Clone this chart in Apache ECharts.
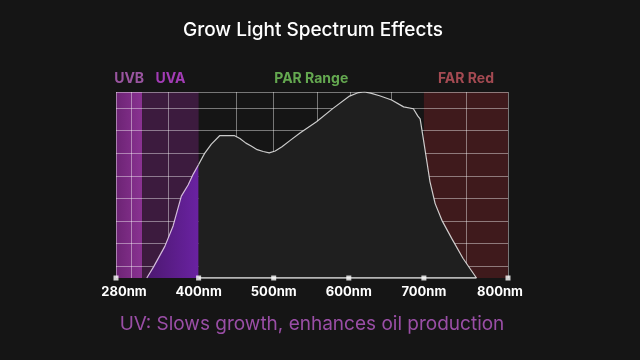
<!DOCTYPE html>
<html><head><meta charset="utf-8">
<script src="https://cdn.jsdelivr.net/npm/echarts@6/dist/echarts.min.js"></script>
<style>html,body{margin:0;padding:0;background:#151515}#c{width:640px;height:360px}</style>
</head><body><div id="c"></div>
<script>
const titleText = 'Grow Light Spectrum Effects';
const noteText = 'UV: Slows growth, enhances oil production';
const axisMin = 290, axisMax = 812;
const tickValues = [290, 400, 500, 600, 700, 812];
const tickLabels = ['280nm', '400nm', '500nm', '600nm', '700nm', '800nm'];
const gridNm = [310, 360, 450, 500, 558, 602, 657, 757];
const gridLevels = [6.1, 18.7, 30.6, 42.8, 54.8, 67, 79.3, 91.4];
const bandNames = ['UVB', 'UVA', 'PAR Range', 'FAR Red'];
const bandStart = [290, 325, 400, 700];
const bandEnd = [325, 400, 700, 812];
const uvLimit = 400;
const spectrumNm = [331, 340, 355, 366, 377, 386, 393, 400, 408, 417, 428, 448, 455, 463, 470, 478, 486, 494, 502, 511, 522, 535, 557, 579, 601, 613, 621, 629, 641, 657, 673, 686, 692, 695, 699, 704, 708, 715, 724, 737, 752, 770];
const spectrumVal = [0, 6, 17, 28, 44, 50, 56, 61, 67, 72, 76.5, 76.5, 75, 72.5, 71, 69, 68, 67.3, 68.3, 70.6, 74, 78, 84, 91.2, 97.8, 99.7, 100, 99.4, 98, 95.7, 92, 91, 87, 85.5, 75.5, 62.5, 52, 40, 31, 21.3, 10.6, 0];

const bandFill = [
  new echarts.graphic.LinearGradient(0, 0, 1, 0, [{offset: 0, color: '#6c2474'}, {offset: 1, color: '#8a3292'}]),
  '#3c1b3e', 'rgba(0,0,0,0)', '#3f1a1c'
];
const bandLabelColor = ['#9a55a0', '#a33cb6', '#64a850', '#a44a52'];

const pts = spectrumNm.map((x, i) => [x, spectrumVal[i]]);
const uvPts = pts.filter(p => p[0] <= uvLimit);
const visPts = pts.filter(p => p[0] >= uvLimit);
const lastNm = spectrumNm[spectrumNm.length - 1];

const font = 'Inter, "Open Sans", sans-serif';
const chart = echarts.init(document.getElementById('c'), null, {renderer: 'canvas'});
chart.setOption({
  backgroundColor: '#151515',
  animation: false,
  textStyle: {fontFamily: font},
  grid: {left: 116, right: 132, top: 92, bottom: 82, containLabel: false},
  xAxis: [{
    type: 'value', min: axisMin, max: axisMax, z: 2,
    axisLine: {show: false}, axisTick: {show: false}, splitLine: {show: false},
    axisLabel: {
      customValues: tickValues, margin: 8, color: '#ffffff', fontSize: 13, fontWeight: 'bold', fontFamily: font,
      formatter: v => {
        const i = tickValues.indexOf(v);
        if (i === 0) return '{l|' + tickLabels[i] + '}';
        if (i === tickValues.length - 1) return '{r|' + tickLabels[i] + '}';
        return tickLabels[i];
      },
      rich: {
        l: {padding: [0, 0, 0, 16], color: '#ffffff', fontSize: 13, fontWeight: 'bold', fontFamily: font},
        r: {padding: [0, 16, 0, 0], color: '#ffffff', fontSize: 13, fontWeight: 'bold', fontFamily: font}
      }
    }
  }, {
    type: 'value', min: axisMin, max: axisMax, position: 'top', z: 2,
    axisLine: {show: false}, axisLabel: {show: false},
    axisTick: {show: false, customValues: [axisMin].concat(gridNm, [axisMax])},
    splitLine: {show: true, lineStyle: {color: 'rgba(255,255,255,0.42)', width: 1}}
  }],
  yAxis: [{
    type: 'value', min: 0, max: 100, z: 2,
    axisLine: {show: false}, axisLabel: {show: false},
    axisTick: {show: false, customValues: gridLevels.concat([100])},
    splitLine: {show: true, lineStyle: {color: 'rgba(255,255,255,0.42)', width: 1}}
  }],
  series: [{
    name: 'UV', type: 'line', z: 3, data: uvPts, symbol: 'none', smooth: false,
    lineStyle: {color: 'rgba(235,215,240,0.85)', width: 1.2},
    areaStyle: {opacity: 1, color: new echarts.graphic.LinearGradient(0, 0, 1, 0, [{offset: 0, color: '#4c1870'}, {offset: 1, color: '#6a22a2'}])}
  }, {
    name: 'Visible', type: 'line', z: 3, data: visPts, symbol: 'none', smooth: false,
    lineStyle: {color: 'rgba(235,235,235,0.85)', width: 1.2},
    areaStyle: {opacity: 1, color: '#1f1f1f'},
    markArea: {
      silent: true,
      data: bandNames.map((n, i) => [{
        name: n, xAxis: bandStart[i],
        itemStyle: {color: bandFill[i]},
        label: {show: true, position: 'top', distance: 6, color: bandLabelColor[i], fontSize: 14, fontWeight: 'bold', fontFamily: font}
      }, {xAxis: bandEnd[i]}])
    }
  }, {
    name: 'baseline', type: 'line', z: 4, symbol: 'none', silent: true,
    data: [[uvLimit, 0], [lastNm, 0]],
    lineStyle: {color: '#e8e8e8', width: 1.5}
  }, {
    name: 'ticks', type: 'scatter', z: 5, clip: false, silent: true,
    symbol: 'rect', symbolSize: 5,
    data: tickValues.map(v => [v, 0]),
    itemStyle: {color: '#ffffff'}
  }],
  graphic: [{
    type: 'text', x: 313, y: 30,
    style: {text: titleText, fill: '#ffffff', font: '500 19px ' + font, textAlign: 'center', textVerticalAlign: 'middle'}
  }, {
    type: 'text', x: 312, y: 324,
    style: {text: noteText, fill: '#9a4ea6', font: '400 19px ' + font, textAlign: 'center', textVerticalAlign: 'middle'}
  }]
});
</script></body></html>
